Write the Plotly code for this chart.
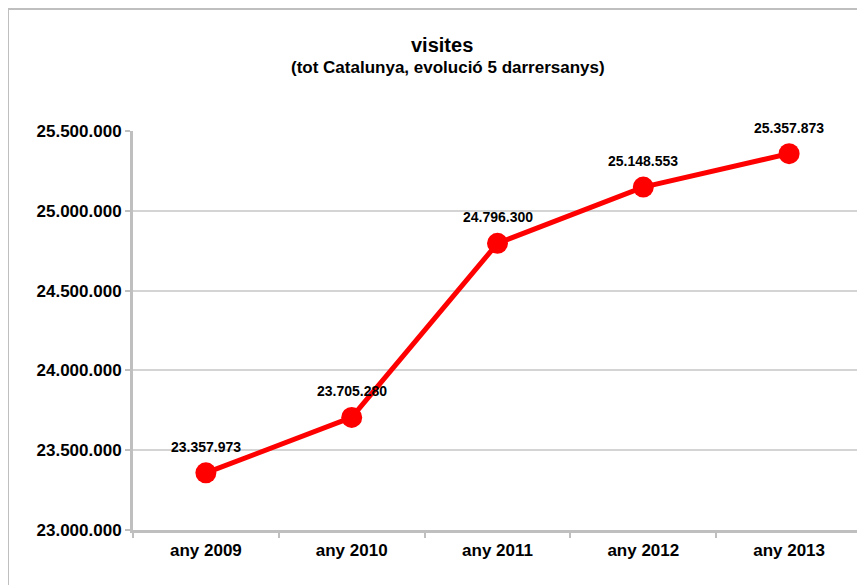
import plotly.graph_objects as go

years = ["any 2009", "any 2010", "any 2011", "any 2012", "any 2013"]
visites = [23357973, 23705280, 24796300, 25148553, 25357873]
y_ticks = [23000000, 23500000, 24000000, 24500000, 25000000, 25500000]

# the page body adds an 8px offset, so positions are in figure pixels
W, H = 865, 585
ml, mr, mt, mb = 125, 11, 123, 63
pw, ph = W - ml - mr, H - mt - mb

fig = go.Figure()
fig.add_trace(go.Scatter(
    x=years, y=visites,
    mode="lines+markers",
    line=dict(color="#ff0000", width=5),
    marker=dict(color="#ff0000", size=21),
    cliponaxis=False,
    hoverinfo="skip",
))

# value labels above each point
for yr, v in zip(years, visites):
    fig.add_annotation(
        x=yr, y=v, text="<b>" + f"{v:,}".replace(",", ".") + "</b>",
        showarrow=False, yshift=26, yanchor="middle",
        font=dict(family="Liberation Sans, Arial", size=14, color="#000000"),
    )

gray = "#bfbfbf"
fig.update_layout(
    width=W, height=H,
    margin=dict(l=ml, r=mr, t=mt, b=mb),
    paper_bgcolor="white", plot_bgcolor="white",
    separators=",.",
    showlegend=False,
    font=dict(family="Liberation Sans, Arial", color="#000000"),
    xaxis=dict(
        range=[-0.5, len(years) - 0.5],
        showgrid=False, showline=True, linecolor=gray, linewidth=3,
        ticks="outside", tickson="boundaries", ticklen=5, tickcolor=gray, tickwidth=2,
        tickfont=dict(size=17, weight="bold"), ticklabelstandoff=3,
        fixedrange=True,
    ),
    yaxis=dict(
        range=[23000000, 25500000],
        tickvals=y_ticks, tickformat=",d",
        showgrid=True, gridcolor="#d4d4d4", gridwidth=1.5,
        showline=True, linecolor=gray, linewidth=3,
        ticks="outside", ticklen=5, tickcolor=gray, tickwidth=2,
        tickfont=dict(size=17, weight="bold"),
        zeroline=False, fixedrange=True,
    ),
)

# title and subtitle
fig.add_annotation(
    text="<b>visites</b>", xref="paper", yref="paper",
    x=(434 - ml) / pw, y=(H - mb - 37) / ph, xanchor="center", yanchor="middle",
    showarrow=False, font=dict(size=20, color="#000000"),
)
fig.add_annotation(
    text="<b>(tot Catalunya, evolució 5 darrersanys)</b>", xref="paper", yref="paper",
    x=(440 - ml) / pw, y=(H - mb - 59) / ph, xanchor="center", yanchor="middle",
    showarrow=False, font=dict(size=17, color="#000000"),
)

# outer chart frame (left/top edges visible)
fig.add_shape(
    type="rect", xref="paper", yref="paper",
    x0=(0 - ml) / pw, x1=(W + 20 - ml) / pw,
    y0=-(mb + 20) / ph, y1=(H - mb - 1) / ph,
    line=dict(color=gray, width=2), layer="below",
)

fig.write_html("out.html")
